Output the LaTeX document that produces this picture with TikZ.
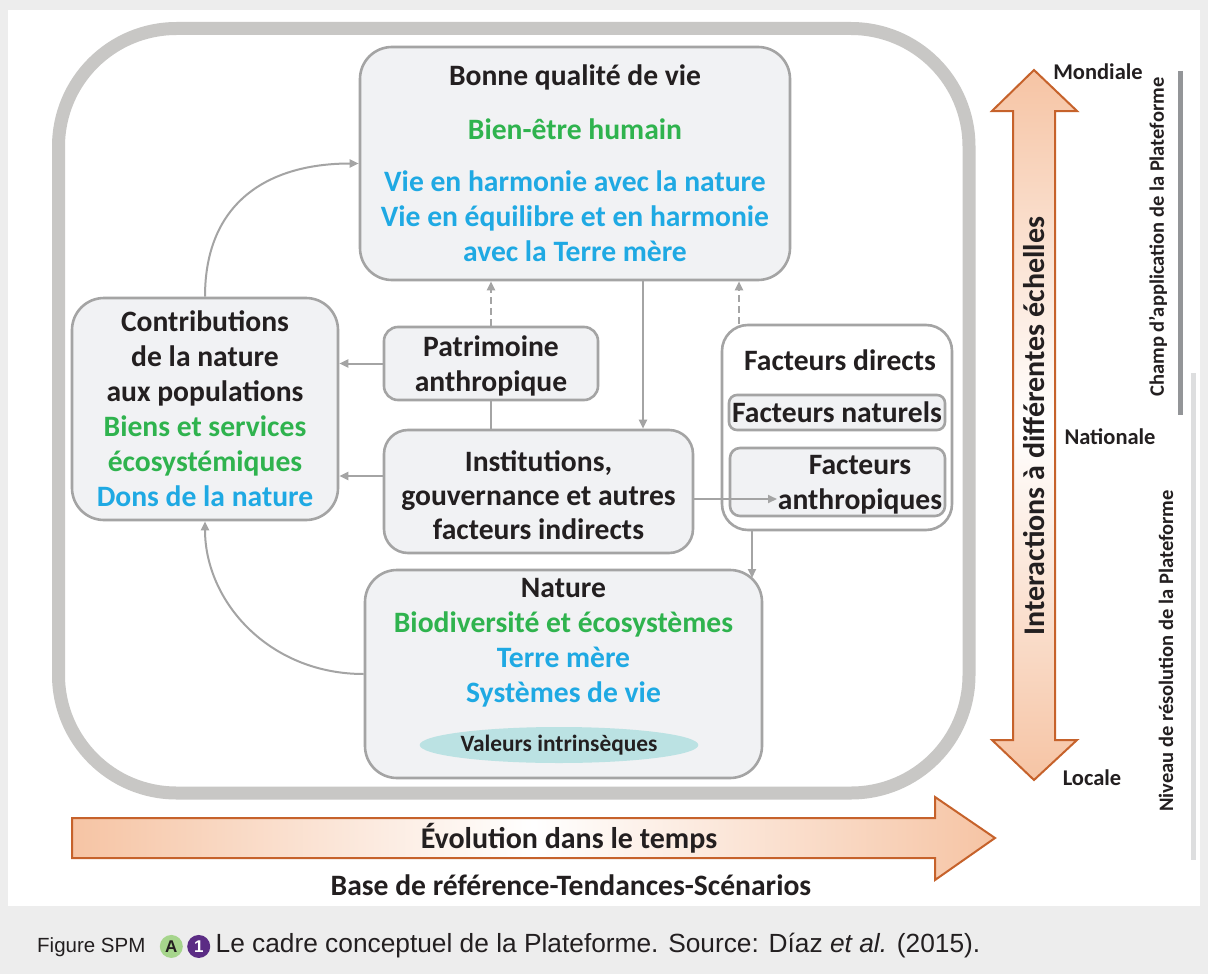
\documentclass[tikz,border=0pt]{standalone}
\usepackage{fontspec}
\setmainfont{Carlito}
\newfontfamily\capfont{Liberation Sans}
\usetikzlibrary{positioning, shapes.geometric, arrows.meta}

\definecolor{pagegray}{HTML}{EDEDED}
\definecolor{framegray}{HTML}{C8C7C5}
\definecolor{boxline}{HTML}{A4A4A4}
\definecolor{boxfill}{HTML}{F1F2F4}
\definecolor{txtdark}{HTML}{231F20}
\definecolor{ipgreen}{HTML}{2FB34E}
\definecolor{ipblue}{HTML}{1FA9E3}
\definecolor{valteal}{HTML}{BBE2E3}
\definecolor{peach}{HTML}{F6C4A4}
\definecolor{rust}{HTML}{C6622B}
\definecolor{darkbar}{HTML}{939598}
\definecolor{lightbar}{HTML}{DDDEDF}
\definecolor{capgreen}{HTML}{A6D58C}
\definecolor{cappurple}{HTML}{5B2C84}

\tikzset{
  box/.style={draw=boxline, line width=2.6pt, fill=boxfill, rounded corners=#1,
    align=center, text=txtdark, inner sep=0pt,
    font=\bfseries\fontsize{29.6}{35}\selectfont},
  box/.default=32pt,
  btxt/.style={align=center, text=txtdark, inner sep=0pt,
    font=\bfseries\fontsize{29.6}{35}\selectfont},
  conn/.style={draw=boxline, line width=2pt, -{Triangle[length=9pt, width=8pt]}},
  dconn/.style={conn, dash pattern=on 7pt off 4pt},
  bigarrow/.style={draw=rust, line width=2pt, line join=miter},
  scalelbl/.style={text=txtdark, inner sep=0pt, font=\bfseries\fontsize{22.5}{27}\selectfont},
  sidelbl/.style={text=txtdark, inner sep=0pt, rotate=90, font=\bfseries\fontsize{20.5}{25}\selectfont}
}

\begin{document}
\begin{tikzpicture}[x=1pt, y=-1pt]
    \useasboundingbox (0,0) rectangle (1208,974);
    \fill[pagegray] (0,0) rectangle (1208,974);
    \fill[white] (8,10) rectangle (1200,906);
    \draw[framegray, line width=13pt, rounded corners=118pt] (58.5,28.5) rectangle (969,793);

    \node[box, minimum width=430pt, minimum height=233pt] (bonne) at (575,163.5)
        {Bonne qualité de vie\\[19pt]
         \textcolor{ipgreen}{Bien-être humain}\\[17pt]
         \textcolor{ipblue}{Vie en harmonie avec la nature}\\
         \textcolor{ipblue}{Vie en équilibre et en harmonie}\\
         \textcolor{ipblue}{avec la Terre mère}};
    \node[box, minimum width=266pt, minimum height=222pt] (contrib) at (205,409)
        {Contributions\\ de la nature\\ aux populations\\
         \textcolor{ipgreen}{Biens et services}\\
         \textcolor{ipgreen}{écosystémiques}\\
         \textcolor{ipblue}{Dons de la nature}};
    \node[box=14pt, minimum width=214pt, minimum height=73pt] (patri) at (491,363.5)
        {\rule{0pt}{26pt}Patrimoine\\ anthropique};
    \node[box=24pt, minimum width=309pt, minimum height=123pt,
        font=\bfseries\fontsize{29.6}{34}\selectfont] (inst) at (538.5,491.5)
        {\rule{0pt}{28pt}Institutions,\\ gouvernance et autres\\ facteurs indirects};
    \node[box=26pt, fill=white, minimum width=230pt, minimum height=205pt] (fd) at (837,427.5) {};
    \node[btxt] (fdtitle) at (840,360) {Facteurs directs};
    \node[box=8pt, minimum width=216pt, minimum height=35pt] (fnat) at (837,412.5) {Facteurs naturels};
    \node[box=10pt, minimum width=215pt, minimum height=68pt] (fanth) at (837.5,482) {};
    \node[btxt] (fanthtxt) at (860,485) {Facteurs\\ anthropiques};
    \node[box, minimum width=397pt, minimum height=208pt] (nature) at (563.5,674)
        {Nature\\
         \textcolor{ipgreen}{Biodiversité et écosystèmes}\\
         \textcolor{ipblue}{Terre mère}\\
         \textcolor{ipblue}{Systèmes de vie}\\[32pt]\mbox{}};
    \node[ellipse, fill=valteal, minimum width=255pt, minimum height=36pt, inner sep=0pt,
        text=txtdark, font=\bfseries\fontsize{23.4}{27}\selectfont] (valeurs) at (559,745)
        {Valeurs intrinsèques};

    \coordinate (ileft) at (384,476);
    \coordinate (down) at (643,0);
    \coordinate (fdup) at (739,0);
    \coordinate (ia) at (777,499);
    \coordinate (fdn) at (752,578);
    \draw[conn] (contrib.north) .. controls +(0,-95) and +(-90,0) .. (bonne.west);
    \draw[conn] (nature.west) .. controls +(-95,0) and +(0,80) .. (contrib.south);
    \draw[conn] (patri.west) -- (patri.west -| contrib.east);
    \draw[conn] (ileft) -- (ileft -| contrib.east);
    \draw[dconn] (patri.north) -- (patri.north |- bonne.south);
    \draw[draw=boxline, line width=2pt] (patri.south) -- (patri.south |- inst.north);
    \draw[conn] (bonne.south -| down) -- (inst.north -| down);
    \draw[dconn] (fd.north -| fdup) -- (bonne.south -| fdup);
    \draw[conn] (inst.east |- ia) -- (ia);
    \draw[conn] (fd.south -| fdn) -- (fdn);

    \draw[bigarrow, top color=peach, bottom color=peach, middle color=white]
        (1034,70) -- (1077,111) -- (1055,111) -- (1055,740) -- (1077,740) -- (1034,780)
        -- (992,740) -- (1013,740) -- (1013,111) -- (992,111) -- cycle;
    \node[btxt, rotate=90, font=\bfseries\fontsize{30}{35}\selectfont] (interact) at (1034,426)
        {Interactions à différentes échelles};
    \node[scalelbl] (mondiale) at (1098,72) {Mondiale};
    \node[scalelbl] (nationale) at (1110,437) {Nationale};
    \node[scalelbl] (locale) at (1092,778) {Locale};
    \draw[darkbar, line width=5pt] (1180,71) -- (1180,415);
    \draw[lightbar, line width=5pt] (1193,373) -- (1193,860);
    \node[sidelbl] (champ) at (1158,237) {Champ d’application de la Plateforme};
    \node[sidelbl] (niveau) at (1166,651) {Niveau de résolution de la Plateforme};

    \draw[bigarrow, left color=peach, right color=peach, middle color=white]
        (72,818) -- (935,818) -- (935,797) -- (995,838) -- (935,880) -- (935,858)
        -- (72,858) -- cycle;
    \node[btxt, font=\bfseries\fontsize{30}{35}\selectfont] (evol) at (569,838) {Évolution dans le temps};
    \node[btxt, font=\bfseries\fontsize{29.6}{35}\selectfont] (base) at (571,885) {Base de référence-Tendances-Scénarios};

    \node[anchor=west, inner sep=0pt, text=txtdark, font=\capfont\fontsize{20.5}{23}\selectfont]
        (capfig) at (37,947) {Figure SPM};
    \node[circle, fill=capgreen, minimum size=23pt, inner sep=0pt, text=txtdark,
        font=\capfont\bfseries\fontsize{17}{19}\selectfont, base right=14pt of capfig] (capa) {A};
    \node[circle, fill=cappurple, minimum size=23pt, inner sep=0pt, text=white,
        font=\capfont\bfseries\fontsize{17}{19}\selectfont, base right=4pt of capa] (capone) {1};
    \node[inner sep=0pt, text=txtdark, font=\capfont\fontsize{26.3}{30}\selectfont,
        base right=5pt of capone] (captxt)
        {Le cadre conceptuel de la Plateforme. Source: Díaz \textit{et al.} (2015).};
\end{tikzpicture}
\end{document}
